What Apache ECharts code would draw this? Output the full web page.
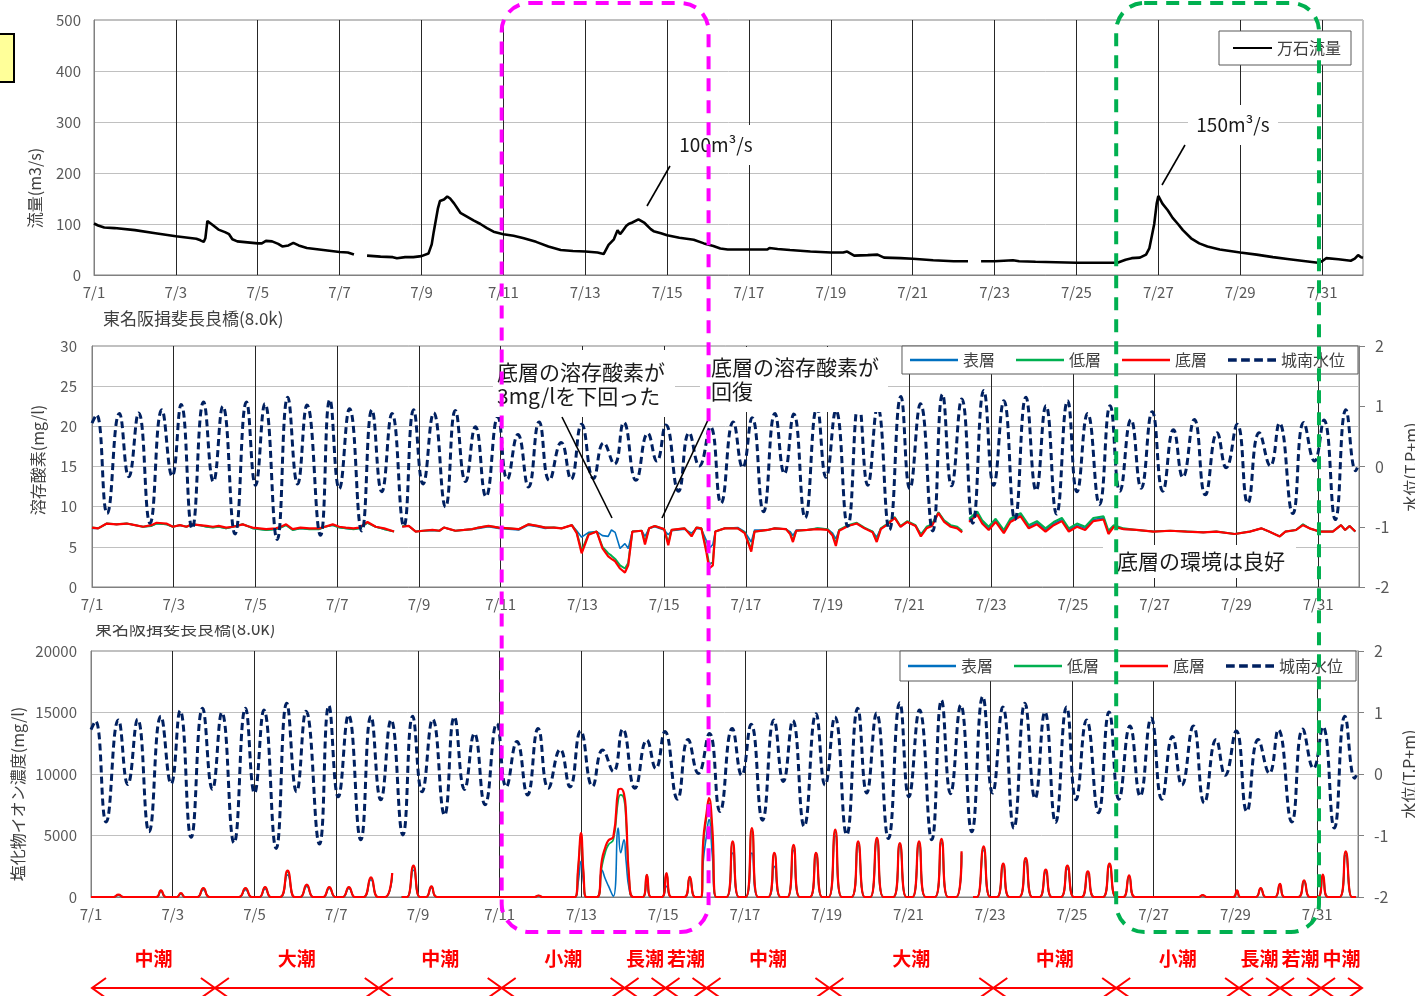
<!DOCTYPE html>
<html>
<head>
<meta charset="utf-8">
<title>流量・溶存酸素・塩化物イオン濃度</title>
<script src="https://cdn.jsdelivr.net/npm/echarts@6/dist/echarts.min.js"></script>
<style>
  html, body { margin: 0; padding: 0; background: #ffffff; }
  #chart { width: 1415px; height: 996px; }
</style>
</head>
<body>
<div id="chart"></div>
<script>
// ---- x-axis tick labels (one every two days) ----
const dayLabels = ['7/1','7/3','7/5','7/7','7/9','7/11','7/13','7/15','7/17','7/19','7/21','7/23','7/25','7/27','7/29','7/31'];

// ---- 万石流量 (m3/s); time in days from 7/1 00:00, null = missing ----
const flowTime = [0,0.1,0.25,0.5,1.0,1.5,2.0,2.3,2.5,2.6,2.68,2.72,2.77,2.9,3.04,3.2,3.3,3.38,3.5,3.75,4.0,4.1,4.2,4.35,4.5,4.6,4.75,4.87,5.0,5.2,5.5,5.8,6.0,6.2,6.35,6.5,6.67,7.0,7.3,7.4,7.6,7.8,8.0,8.17,8.25,8.3,8.4,8.45,8.55,8.63,8.7,8.8,8.95,9.1,9.27,9.44,9.6,9.76,10.0,10.25,10.5,10.8,11.1,11.4,11.7,12.0,12.3,12.45,12.57,12.7,12.79,12.85,12.9,13.0,13.06,13.15,13.3,13.45,13.6,13.67,13.85,14.0,14.3,14.65,14.9,15.13,15.3,15.48,16.0,16.45,16.5,16.7,17.0,17.5,18.0,18.3,18.4,18.57,18.9,19.14,19.3,19.7,20.0,20.5,21.0,21.35,21.5,21.67,22.0,22.45,22.6,23.0,23.5,24.0,24.5,25.0,25.2,25.35,25.55,25.7,25.78,25.85,25.9,25.96,26.0,26.1,26.23,26.35,26.48,26.6,26.8,27.0,27.2,27.5,28.0,28.4,28.8,29.2,29.6,29.9,30.0,30.1,30.4,30.7,30.8,30.88,30.95,31.0];
const flowValue = [101,97,93,92,88,82,76,73,71,68,65,72,106,98,89,84,80,70,66,64,62,62,67,66,61,56,58,63,58,53,50,47,45,44,40,null,38,36,35,33,35,35,37,42,60,85,130,145,148,154,150,140,122,115,107,100,92,85,80,77,72,65,56,49,47,46,44,41,59,70,88,80,85,96,100,103,109,102,90,86,82,78,73,69,62,57,52,50,50,50,53,51,49,46,44,44,46,38,39,40,34,33,32,29,27,27,null,27,27,29,27,26,25,24,24,24,30,33,34,40,52,80,100,140,155,140,127,112,100,88,72,62,56,50,44,40,35,31,27,24,27,33,31,28,32,39,35,34];

// ---- 城南水位 (T.P.+m): high / low water turning points ----
const levelTime = [0,0.11,0.37,0.67,0.90,1.14,1.42,1.71,1.96,2.18,2.45,2.73,2.97,3.20,3.50,3.78,4.00,4.23,4.53,4.79,5.03,5.26,5.59,5.82,6.05,6.30,6.60,6.85,7.09,7.34,7.63,7.87,8.10,8.36,8.65,8.89,9.14,9.38,9.64,9.93,10.16,10.42,10.68,10.94,11.19,11.48,11.72,11.98,12.27,12.52,12.78,13.01,13.31,13.60,13.82,14.04,14.35,14.61,14.86,15.13,15.39,15.69,15.92,16.15,16.43,16.71,16.94,17.17,17.45,17.74,17.96,18.20,18.49,18.76,18.98,19.22,19.51,19.79,20.01,20.27,20.57,20.81,21.03,21.28,21.55,21.82,22.06,22.31,22.58,22.85,23.10,23.34,23.60,23.87,24.10,24.36,24.65,24.91,25.15,25.42,25.67,25.94,26.20,26.46,26.69,26.97,27.24,27.53,27.75,28.02,28.28,28.56,28.83,29.05,29.38,29.65,29.91,30.14,30.42,30.68,30.92,30.96];
const levelValue = [0.72,0.86,-0.78,0.88,-0.17,0.89,-0.94,0.94,-0.16,1.03,-1.03,1.07,-0.25,1.00,-1.12,1.07,-0.31,1.04,-1.21,1.15,-0.29,1.02,-1.14,1.11,-0.37,0.96,-1.07,0.94,-0.42,0.88,-0.99,0.94,-0.29,0.89,-0.67,0.93,-0.25,0.66,-0.50,0.82,-0.21,0.53,-0.34,0.74,-0.23,0.40,-0.21,0.70,-0.20,0.39,0.04,0.73,-0.23,0.55,0.09,0.69,-0.41,0.56,0.01,0.66,-0.61,0.74,-0.02,0.81,-0.75,0.88,-0.12,0.87,-0.85,0.98,-0.18,0.93,-0.99,1.07,-0.31,0.99,-1.05,1.16,-0.37,1.04,-1.07,1.20,-0.32,1.12,-0.94,1.26,-0.31,1.09,-0.88,1.15,-0.40,1.01,-0.79,1.09,-0.42,0.88,-0.63,1.01,-0.41,0.78,-0.36,0.91,-0.41,0.61,-0.18,0.78,-0.47,0.56,-0.02,0.70,-0.61,0.56,0.01,0.72,-0.78,0.73,0.09,0.77,-0.88,0.94,-0.07,-0.02];

// ---- 溶存酸素 (mg/l) at 東名阪揖斐長良橋: 表層 / 低層 / 底層 ----
const doTime = [0,0.15,0.36,0.6,0.85,1.05,1.25,1.45,1.58,1.82,1.98,2.15,2.31,2.45,2.63,2.8,2.96,3.1,3.28,3.45,3.69,3.8,3.93,4.1,4.26,4.5,4.62,4.75,4.91,5.1,5.32,5.56,5.7,5.89,6.05,6.21,6.4,6.54,6.74,6.94,7.15,7.39,7.49,7.59,7.75,7.92,8.1,8.33,8.5,8.61,8.75,8.89,9.1,9.3,9.46,9.7,9.95,10.2,10.44,10.68,10.9,11.09,11.3,11.49,11.74,11.86,11.98,12.15,12.35,12.49,12.63,12.71,12.8,12.92,13.04,13.12,13.22,13.45,13.53,13.63,13.77,14.0,14.1,14.18,14.5,14.67,14.79,14.91,15.03,15.1,15.19,15.25,15.48,15.8,15.97,16.13,16.21,16.53,16.7,16.98,17.08,17.15,17.23,17.5,17.75,18.0,18.12,18.2,18.28,18.5,18.71,18.9,19.1,19.2,19.3,19.44,19.64,19.78,19.95,20.15,20.28,20.42,20.55,20.71,20.85,21.01,21.17,21.29,21.37,21.46,21.66,21.78,21.94,22.11,22.31,22.47,22.72,22.92,23.12,23.33,23.53,23.73,23.9,24.1,24.3,24.5,24.75,24.87,25.0,25.24,25.56,25.97,26.38,26.78,27.19,27.51,27.96,28.33,28.61,28.8,29.06,29.2,29.46,29.63,29.79,30.03,30.36,30.56,30.66,30.77,30.91];
const doBottom = [7.4,7.3,7.9,7.8,7.9,7.7,7.5,7.7,8.0,7.9,7.5,7.7,7.5,7.8,7.7,7.6,7.5,7.6,7.4,7.5,7.8,7.6,7.4,7.3,7.2,7.3,7.5,7.8,7.2,7.4,7.3,7.3,7.5,7.8,7.5,7.4,7.3,7.4,8.1,7.5,7.3,6.9,null,7.5,7.6,6.9,7.0,7.1,7.0,7.4,7.2,7.0,7.1,7.2,7.4,7.6,7.4,7.3,7.2,7.8,7.6,7.4,7.4,7.3,7.7,6.7,4.2,6.5,6.9,4.8,3.8,3.5,3.2,2.3,1.8,2.7,6.9,7.0,5.3,7.3,7.6,7.2,5.2,7.1,7.3,6.3,7.4,7.3,4.4,2.3,2.7,6.9,7.3,7.3,6.7,4.4,6.9,7.1,7.3,7.2,6.6,5.6,7.0,7.1,7.2,7.1,6.4,5.1,7.0,7.6,7.9,7.3,6.8,5.6,7.2,7.7,8.6,7.5,8.1,7.6,6.3,7.3,7.6,9.2,8.1,7.5,7.3,6.8,null,8.1,9.0,7.9,7.1,8.1,6.7,8.1,8.8,7.3,7.8,6.9,7.7,8.2,6.9,7.5,7.1,8.2,8.4,6.6,7.5,7.2,7.1,6.9,7.0,6.9,6.8,6.9,6.6,6.9,7.3,6.9,6.3,6.9,7.1,7.7,7.3,6.9,6.9,7.7,7.1,7.6,6.9];
const doLower = [7.4,7.3,7.9,7.8,7.9,7.7,7.5,7.6,7.9,7.8,7.5,7.7,7.5,7.8,7.7,7.5,7.4,7.5,7.3,7.5,7.8,7.6,7.3,7.2,7.1,7.2,7.4,7.7,7.1,7.3,7.2,7.2,7.5,7.7,7.4,7.3,7.2,7.3,8.0,7.5,7.2,6.9,null,7.6,7.6,6.9,7.0,7.1,7.0,7.4,7.2,7.0,7.1,7.2,7.4,7.6,7.4,7.3,7.2,7.8,7.6,7.4,7.4,7.3,7.7,6.8,4.5,6.6,6.9,5.0,4.2,3.9,3.5,2.7,2.3,3.0,6.9,7.0,5.6,7.3,7.6,7.2,5.5,7.1,7.3,6.4,7.4,7.3,4.8,2.8,3.1,6.9,7.3,7.3,6.8,4.7,6.9,7.1,7.3,7.2,6.7,5.8,7.0,7.1,7.3,7.2,6.5,5.4,7.1,7.7,8.0,7.4,6.9,5.8,7.3,7.8,8.7,7.6,8.2,7.7,6.5,7.5,7.8,9.3,8.3,7.7,7.5,7.0,null,8.5,9.4,8.3,7.5,8.5,7.1,8.5,9.2,7.7,8.2,7.3,8.1,8.6,7.3,7.9,7.5,8.6,8.8,7.0,7.7,7.3,7.1,6.9,7.0,6.9,6.8,6.9,6.6,6.9,7.3,6.9,6.3,6.9,7.1,7.8,7.3,6.9,6.9,7.7,7.1,7.6,6.9];
const doSurface = [7.3,7.3,7.9,7.8,7.9,7.7,7.5,7.6,7.9,7.8,7.5,7.7,7.5,7.8,7.7,7.5,7.4,7.5,7.3,7.5,7.8,7.6,7.3,7.2,7.1,7.2,7.4,7.7,7.1,7.3,7.2,7.2,7.5,7.7,7.4,7.3,7.2,7.3,8.0,7.5,7.2,6.9,null,7.5,7.6,6.9,7.0,7.0,7.0,7.4,7.2,7.0,7.1,7.2,7.3,7.5,7.3,7.2,7.1,7.7,7.5,7.3,7.4,7.3,7.7,7.0,6.2,6.8,6.9,6.4,6.3,7.1,6.8,4.8,5.4,4.8,6.9,7.0,6.3,7.3,7.5,7.1,6.5,7.0,7.2,6.7,7.3,7.2,5.8,4.8,5.3,6.9,7.3,7.4,6.9,5.6,7.1,7.1,7.3,7.2,6.9,6.4,7.1,7.1,7.3,7.2,6.7,6.0,7.1,7.6,7.9,7.3,6.9,6.2,7.3,7.7,8.6,7.5,8.1,7.6,6.6,7.4,7.7,9.3,8.2,7.6,7.4,6.9,null,8.3,9.2,8.1,7.3,8.3,6.9,8.3,9.0,7.5,8.0,7.1,7.9,8.4,7.1,7.7,7.3,8.4,8.6,6.8,7.6,7.2,7.1,6.9,7.0,6.9,6.8,6.9,6.6,6.9,7.3,6.9,6.3,6.9,7.1,7.8,7.3,6.9,6.9,7.7,7.1,7.6,6.9];

// ---- 塩化物イオン濃度 (mg/l): 表層 / 低層 / 底層 ----
const clTime = [0,0.55,0.67,0.8,1.6,1.71,1.83,2.1,2.2,2.3,2.6,2.75,2.9,3.62,3.78,3.93,4.12,4.26,4.4,4.63,4.81,4.98,5.12,5.28,5.44,5.68,5.83,5.98,6.16,6.31,6.46,6.67,6.85,7.02,7.2,7.37,7.45,7.6,7.73,7.89,8.05,8.2,8.33,8.47,10.85,10.95,11.05,11.84,11.92,11.99,12.05,12.12,12.38,12.5,12.58,12.66,12.78,12.9,12.96,13.04,13.09,13.17,13.27,13.5,13.6,13.7,13.97,14.08,14.2,14.52,14.65,14.78,14.93,14.98,15.06,15.12,15.2,15.3,15.55,15.7,15.85,16.02,16.17,16.32,16.57,16.72,16.87,17.04,17.19,17.34,17.59,17.74,17.89,18.05,18.21,18.37,18.61,18.77,18.93,19.07,19.23,19.39,19.63,19.79,19.95,20.1,20.26,20.42,20.65,20.81,20.97,21.17,21.3,21.4,21.58,21.68,21.84,22.0,22.17,22.32,22.47,22.71,22.87,23.03,23.21,23.36,23.51,23.73,23.89,24.05,24.24,24.39,24.54,24.76,24.92,25.08,25.26,25.4,25.54,27.1,27.2,27.3,27.95,28.04,28.12,28.5,28.62,28.74,28.97,29.09,29.2,29.54,29.68,29.82,30.02,30.14,30.26,30.55,30.7,30.85,30.95];
const clBottom = [0,0,190,0,0,540,0,0,325,0,0,730,0,0,730,0,0,810,0,0,2140,0,0,1000,0,0,810,0,0,810,0,0,1600,0,0,1950,null,0,0,2550,0,0,870,0,0,120,0,0,2400,5200,2000,0,0,3000,4000,4600,4900,8700,8800,8400,6800,1400,0,0,1800,0,0,1950,0,0,1630,0,0,4600,6800,8050,5700,0,0,4530,0,0,5610,0,0,3580,0,0,4250,0,0,3580,0,0,5470,0,0,4530,0,0,4800,0,0,4390,0,0,4530,0,0,4720,0,0,3710,null,0,0,4120,0,0,2710,0,0,3170,0,0,2220,0,0,2550,0,0,2090,0,0,2710,0,0,1760,0,0,150,0,0,540,0,0,730,0,0,1060,0,0,1360,0,0,1820,0,0,3710,0,0];
const clLower = [0,0,180,0,0,520,0,0,300,0,0,700,0,0,700,0,0,780,0,0,2050,0,0,950,0,0,780,0,0,780,0,0,1550,0,0,1900,null,0,0,2450,0,0,850,0,0,110,0,0,2300,5000,1900,0,0,2500,3600,4250,4660,7900,8300,8000,6300,1300,0,0,1800,0,0,1900,0,0,1600,0,0,4100,6500,7600,5000,0,0,4400,0,0,5400,0,0,3500,0,0,4100,0,0,3500,0,0,5300,0,0,4400,0,0,4700,0,0,4300,0,0,4400,0,0,4600,0,0,3600,null,0,0,4000,0,0,2600,0,0,3100,0,0,2150,0,0,2500,0,0,2000,0,0,2600,0,0,1700,0,0,140,0,0,520,0,0,700,0,0,1000,0,0,1300,0,0,1750,0,0,3600,0,0];
const clSurface = [0,0,150,0,0,450,0,0,250,0,0,600,0,0,600,0,0,650,0,0,1800,0,0,850,0,0,700,0,0,700,0,0,1400,0,0,1700,null,0,0,2200,0,0,750,0,0,100,0,0,1200,2900,1200,0,0,2200,1500,900,50,5600,3600,4660,3000,600,0,0,1000,0,0,870,0,0,1400,0,0,2900,5000,6300,3500,0,0,3580,0,0,3580,0,0,2490,0,0,3800,0,0,3300,0,0,5000,0,0,4200,0,0,4500,0,0,4100,0,0,4200,0,0,4400,0,0,3400,null,0,0,3800,0,0,2500,0,0,2900,0,0,2000,0,0,2300,0,0,1900,0,0,2500,0,0,1600,0,0,130,0,0,480,0,0,650,0,0,950,0,0,1200,0,0,1650,0,0,3400,0,0];

// ---- 潮汐区分 (tide phases) and their boundaries in days ----
const tideNames = ['中潮','大潮','中潮','小潮','長潮','若潮','中潮','大潮','中潮','小潮','長潮','若潮','中潮'];
const tideBounds = [0,3,7,10,13,14,15,18,22,25,28,29,30,31];

// ---- periods framed on all three panels ----
const framedPeriods = [[10.0, 15.05], [25.0, 29.95]];
const framedColors = ['#ff00ff', '#00b050'];

// ------------------------------------------------------------------
const FONT = '"Noto Sans CJK JP", "Noto Sans", sans-serif';
const pairs = (xs, ys) => xs.map((x, i) => [x, ys[i]]);
const tickStyle = { color: '#595959', fontSize: 15, fontFamily: FONT };

// legend keys drawn as plain strokes (solid / dashed)
const SOLID_KEY = 'path://M0,0H48V2.4H0Z';
const DASH_KEY = 'path://M0,0H8V3H0Z M12,0H20V3H12Z M24,0H32V3H24Z M36,0H44V3H36Z';

function dayAxis(gridIndex) {
  return {
    type: 'value', gridIndex, min: 0, max: 31, interval: 2,
    axisLine: { show: true, lineStyle: { color: '#808080', width: 1 } },
    axisTick: { show: false },
    axisLabel: Object.assign({
      margin: 10, showMaxLabel: false,
      formatter: v => (v % 2 === 0 && v / 2 < dayLabels.length) ? dayLabels[v / 2] : ''
    }, tickStyle),
    splitLine: { show: true, showMinLine: false, showMaxLine: false, lineStyle: { color: '#262626', width: 1 } }
  };
}
function leftAxis(gridIndex, max, interval, margin) {
  return {
    type: 'value', gridIndex, min: 0, max, interval,
    axisLine: { show: true, lineStyle: { color: '#808080' } },
    axisTick: { show: false },
    axisLabel: Object.assign({ margin, formatter: v => String(v) }, tickStyle),
    splitLine: { show: true, lineStyle: { color: '#c0c0c0', width: 1 } }
  };
}
function levelAxis(gridIndex) {
  return {
    type: 'value', gridIndex, position: 'right', min: -2, max: 2, interval: 1,
    axisLine: { show: true, lineStyle: { color: '#808080' } },
    axisTick: { show: true, inside: false, length: 6, lineStyle: { color: '#808080' } },
    axisLabel: Object.assign({}, tickStyle, { fontSize: 16, margin: 16, formatter: v => String(v) }),
    splitLine: { show: false }
  };
}
function lineSeries(name, data, xi, yi, color, width, extra) {
  return Object.assign({
    type: 'line', name, data, xAxisIndex: xi, yAxisIndex: yi,
    symbol: 'none', showSymbol: false, connectNulls: false,
    lineStyle: { color, width }, itemStyle: { color }
  }, extra || {});
}
const levelStyle = { color: '#002060', width: 3, type: [7, 4] };

function legendBox(names, pos) {
  return Object.assign({
    data: names.map(n => ({ name: n, icon: n === '城南水位' ? DASH_KEY : SOLID_KEY })),
    orient: 'horizontal', selectedMode: false,
    itemWidth: 48, itemHeight: 14, itemGap: 21, symbolKeepAspect: true,
    backgroundColor: '#ffffff', borderColor: '#595959', borderWidth: 1,
    padding: [6, 13, 6, 8],
    textStyle: { fontSize: 16, color: '#404040', fontFamily: FONT }
  }, pos);
}

function vText(x, y, text, size) {
  return { type: 'text', x, y, rotation: Math.PI / 2, silent: true,
    style: { text, fill: '#404040', fontSize: size, fontFamily: FONT, align: 'center', verticalAlign: 'middle' } };
}
function whiteBox(x, y, w, h) {
  return { type: 'rect', z: 50, silent: true, shape: { x, y, width: w, height: h }, style: { fill: '#ffffff' } };
}
function leader(x1, y1, x2, y2) {
  return { type: 'line', z: 51, silent: true, shape: { x1, y1, x2, y2 }, style: { stroke: '#000000', lineWidth: 1.6 } };
}
function note(x, y, text, size, align, lh) {
  return { type: 'text', z: 52, x, y, silent: true,
    style: { text, fill: '#1a1a1a', fontSize: size, fontFamily: FONT, align: align || 'left', verticalAlign: 'middle', lineHeight: lh || size + 3 } };
}

const chart = echarts.init(document.getElementById('chart'), null, { renderer: 'canvas' });

const option = {
  animation: false,
  backgroundColor: '#ffffff',
  textStyle: { fontFamily: FONT },
  grid: [
    { left: 94, top: 20, width: 1269, height: 255, show: true, borderColor: '#808080', borderWidth: 1, outerBoundsMode: 'none' },
    { left: 92, top: 346, width: 1267, height: 241, show: true, borderColor: '#808080', borderWidth: 1, outerBoundsMode: 'none' },
    { left: 91, top: 651, width: 1267, height: 246, show: true, borderColor: '#808080', borderWidth: 1, outerBoundsMode: 'none' },
    { left: 92, top: 0, width: 1270, height: 996, show: false, outerBoundsMode: 'none' }
  ],
  xAxis: [
    dayAxis(0), dayAxis(1), dayAxis(2),
    { type: 'value', gridIndex: 3, min: 0, max: 31, show: false }
  ],
  yAxis: [
    leftAxis(0, 500, 100, 13),
    leftAxis(1, 30, 5, 15),
    levelAxis(1),
    leftAxis(2, 20000, 5000, 14),
    levelAxis(2),
    { type: 'value', gridIndex: 3, min: 0, max: 1, show: false }
  ],
  legend: [
    legendBox(['万石流量'], { left: 1219, top: 31, itemWidth: 39, padding: [9, 10, 9, 14] }),
    legendBox(['表層', '低層', '底層', '城南水位'], { right: 57, top: 346 }),
    legendBox(['表層', '低層', '底層', '城南水位'], { right: 59, top: 651, padding: [7, 13, 7, 8] })
  ],
  series: [
    // top panel: river discharge
    lineSeries('万石流量', pairs(flowTime, flowValue), 0, 0, '#000000', 2.6),

    // middle panel: dissolved oxygen + water level
    lineSeries('表層', pairs(doTime, doSurface), 1, 1, '#0070c0', 1.6),
    lineSeries('低層', pairs(doTime, doLower), 1, 1, '#00b050', 2),
    lineSeries('底層', pairs(doTime, doBottom), 1, 1, '#ff0000', 2.2),
    lineSeries('城南水位', pairs(levelTime, levelValue), 1, 2, '#002060', 3, { smooth: 0.5, lineStyle: levelStyle }),

    // bottom panel: chloride ion + water level
    lineSeries('表層', pairs(clTime, clSurface), 2, 3, '#0070c0', 1.6, { smooth: 0.5 }),
    lineSeries('低層', pairs(clTime, clLower), 2, 3, '#00b050', 1.8, { smooth: 0.5 }),
    lineSeries('底層', pairs(clTime, clBottom), 2, 3, '#ff0000', 2.2, { smooth: 0.5 }),
    lineSeries('城南水位', pairs(levelTime, levelValue), 2, 4, '#002060', 3, { smooth: 0.5, lineStyle: levelStyle }),

    // tide phase arrows below the panels
    {
      type: 'custom', name: 'tide', xAxisIndex: 3, yAxisIndex: 5, silent: true, z: 20,
      data: tideNames.map((n, i) => [tideBounds[i], tideBounds[i + 1]]),
      renderItem(params, api) {
        const x0 = api.coord([api.value(0), 0])[0];
        const x1 = api.coord([api.value(1), 0])[0];
        const y = 988, ah = 14, av = 10;
        const st = { stroke: '#ff0000', lineWidth: 2, fill: 'transparent' };
        return {
          type: 'group',
          children: [
            { type: 'line', shape: { x1: x0, y1: y, x2: x1, y2: y }, style: st },
            { type: 'polyline', shape: { points: [[x0 + ah, y - av], [x0, y], [x0 + ah, y + av]] }, style: st },
            { type: 'polyline', shape: { points: [[x1 - ah, y - av], [x1, y], [x1 - ah, y + av]] }, style: st },
            { type: 'text', x: (x0 + x1) / 2, y: 959,
              style: { text: tideNames[params.dataIndex], fill: '#ff0000', fontSize: 19, fontWeight: 'bold', fontFamily: FONT, align: 'center', verticalAlign: 'middle' } }
          ]
        };
      }
    },

    // dashed rounded frames spanning the three panels
    {
      type: 'custom', name: 'frames', xAxisIndex: 3, yAxisIndex: 5, silent: true, z: 100,
      data: framedPeriods,
      renderItem(params, api) {
        const x0 = api.coord([api.value(0), 0])[0];
        const x1 = api.coord([api.value(1), 0])[0];
        return {
          type: 'rect',
          shape: { x: x0, y: 3, width: x1 - x0, height: 929, r: 28 },
          style: { fill: 'transparent', stroke: framedColors[params.dataIndex], lineWidth: 4, lineDash: [13, 9] }
        };
      }
    }
  ],
  graphic: {
    elements: [
      // small marker box at the upper left
      { type: 'rect', silent: true, shape: { x: -6, y: 34, width: 20, height: 48 }, style: { fill: '#ffff99', stroke: '#000000', lineWidth: 2 } },

      // axis titles
      vText(35, 188, '流量(m3/s)', 16),
      vText(38, 460, '溶存酸素(mg/l)', 16),
      vText(1411, 467, '水位(T.P+m)', 16),
      vText(18, 794, '塩化物イオン濃度(mg/l)', 16),
      vText(1409, 774, '水位(T.P+m)', 16),

      // station names
      { type: 'text', x: 103, y: 319, silent: true, style: { text: '東名阪揖斐長良橋(8.0k)', fill: '#404040', fontSize: 17, fontFamily: FONT, align: 'left', verticalAlign: 'middle' } },
      { type: 'text', x: 95, y: 629, silent: true, style: { text: '東名阪揖斐長良橋(8.0k)', fill: '#404040', fontSize: 17, fontFamily: FONT, align: 'left', verticalAlign: 'middle' } },
      { type: 'rect', silent: true, z: 5, shape: { x: 90, y: 614, width: 200, height: 11 }, style: { fill: '#ffffff' } },

      // discharge peak callouts
      whiteBox(670, 125, 84, 40),
      note(716, 145, '100m³/s', 19, 'center'),
      leader(647, 206, 670, 166),
      whiteBox(1188, 105, 90, 40),
      note(1233, 125, '150m³/s', 19, 'center'),
      leader(1162, 185, 1185, 145),

      // dissolved oxygen callouts
      whiteBox(493, 350, 182, 67),
      note(497, 384, '底層の溶存酸素が\n3mg/lを下回った', 21, 'left', 24),
      leader(562, 417, 612, 518),
      leader(662, 518, 708, 420),
      whiteBox(700, 347, 188, 65),
      note(711, 379, '底層の溶存酸素が\n回復', 21, 'left', 24),
      whiteBox(1103, 545, 193, 33),
      note(1117, 561, '底層の環境は良好', 21, 'left')
    ]
  }
};

chart.setOption(option);
</script>
</body>
</html>
